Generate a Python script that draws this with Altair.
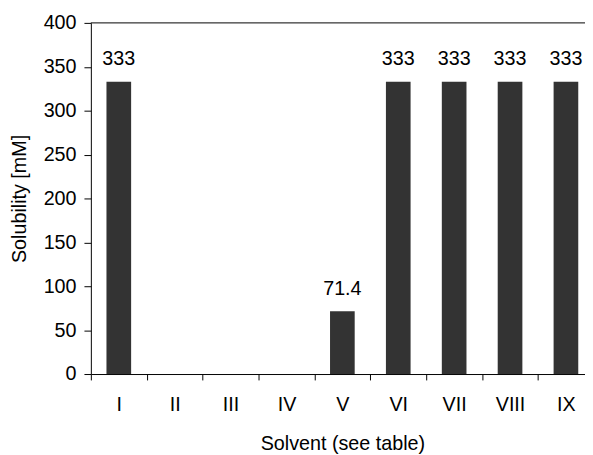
import altair as alt
import pandas as pd

categories = ["I", "II", "III", "IV", "V", "VI", "VII", "VIII", "IX"]
values = [333, 0, 0, 0, 71.4, 333, 333, 333, 333]
labels = ["333", "", "", "", "71.4", "333", "333", "333", "333"]
y_ticks = [0, 50, 100, 150, 200, 250, 300, 350, 400]

df = pd.DataFrame({"solvent": categories, "value": values, "label": labels})

FONT = "Liberation Sans"
FS = 20

x_enc = alt.X(
    "solvent:N",
    sort=categories,
    scale=alt.Scale(domain=categories, range=[0, 510], paddingInner=0, paddingOuter=0),
    axis=alt.Axis(
        title="Solvent (see table)",
        labelAngle=0,
        tickBand="extent",
        tickSize=6,
        tickColor="black",
        domainColor="black",
        labelColor="black",
        titleColor="black",
        labelFont=FONT,
        titleFont=FONT,
        labelFontSize=FS,
        titleFontSize=FS,
        titleFontWeight="normal",
        labelPadding=15,
        titlePadding=20,
    ),
)

y_enc = alt.Y(
    "value:Q",
    scale=alt.Scale(domain=[0, 400], nice=False),
    axis=alt.Axis(
        title="Solubility [mM]",
        values=y_ticks,
        grid=False,
        tickSize=7,
        tickColor="black",
        domainColor="black",
        labelColor="black",
        titleColor="black",
        labelFont=FONT,
        titleFont=FONT,
        labelFontSize=FS,
        titleFontSize=FS,
        titleFontWeight="normal",
        labelPadding=8,
        titlePadding=14,
    ),
)

base = alt.Chart(df).encode(x=x_enc)

bars = base.mark_bar(size=25, color="#333333").encode(y=y_enc)

text = base.mark_text(
    dy=-17, baseline="alphabetic", font=FONT, fontSize=FS, color="black"
).encode(y=alt.Y("value:Q"), text="label:N")

top_line = alt.Chart(pd.DataFrame({"a": [0]})).mark_rule(color="black", strokeWidth=1).encode(
    x=alt.value(0), x2=alt.value(510), y=alt.value(0)
)

chart = (
    alt.layer(bars, text, top_line)
    .properties(
        width=501,
        height=356,
        autosize=alt.AutoSizeParams(type="none"),
        padding={"left": 84, "top": 12, "right": 0, "bottom": 79},
    )
    .configure_view(stroke=None)
)

chart.save("out.html", embed_options={"renderer": "svg", "actions": False})
